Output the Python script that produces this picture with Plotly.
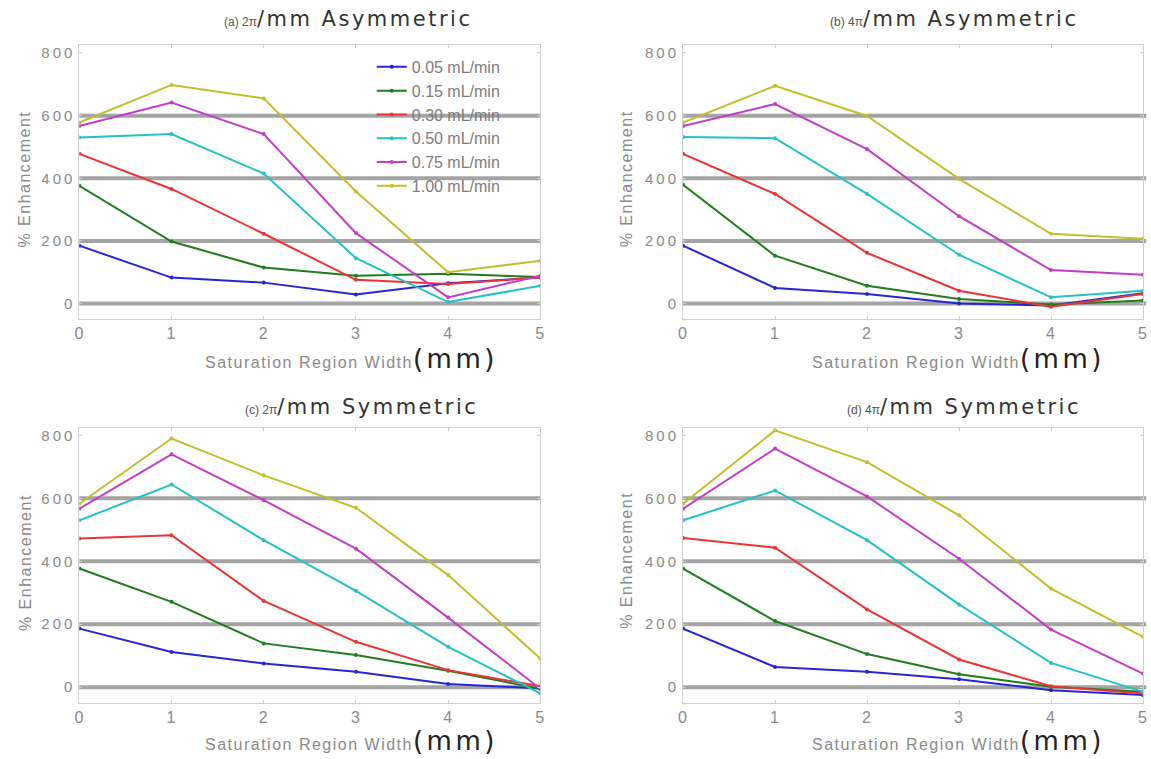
import plotly.graph_objects as go

# ---------------- data ----------------
x_mm = [0, 1, 2, 3, 4, 5]
series_names = ["0.05 mL/min", "0.15 mL/min", "0.30 mL/min",
                "0.50 mL/min", "0.75 mL/min", "1.00 mL/min"]
colors = ["#2626d9", "#1e7d1e", "#ec3434", "#22c2c6", "#c23ec8", "#c2be2e"]

# (a) 2pi/mm Asymmetric
a_vals = [
    [185, 83, 67, 29, 65, 83],
    [376, 198, 115, 89, 95, 85],
    [478, 366, 223, 76, 63, 83],
    [530, 541, 415, 145, 5, 57],
    [567, 642, 541, 225, 20, 89],
    [578, 698, 655, 358, 100, 137],
]
# (b) 4pi/mm Asymmetric
b_vals = [
    [185, 50, 31, 0, -6, 33],
    [379, 153, 57, 15, -3, 10],
    [478, 350, 162, 41, -10, 31],
    [532, 528, 350, 156, 20, 41],
    [567, 637, 493, 279, 107, 92],
    [578, 695, 599, 398, 223, 207],
]
# (c) 2pi/mm Symmetric
c_vals = [
    [186, 112, 75, 49, 10, -4],
    [377, 271, 139, 102, 52, -5],
    [472, 483, 274, 144, 54, 3],
    [530, 644, 467, 306, 128, -20],
    [567, 740, 594, 440, 221, -5],
    [583, 790, 673, 570, 356, 91],
]
# (d) 4pi/mm Symmetric
d_vals = [
    [186, 64, 49, 25, -10, -25],
    [377, 210, 105, 41, 1, -15],
    [474, 443, 247, 88, 3, -20],
    [530, 625, 467, 263, 77, -15],
    [567, 758, 606, 408, 183, 43],
    [583, 816, 715, 546, 313, 160],
]

panel_small = ["(a) 2\u03c0", "(b) 4\u03c0", "(c) 2\u03c0", "(d) 4\u03c0"]
panel_big = ["/mm Asymmetric", "/mm Asymmetric", "/mm Symmetric", "/mm Symmetric"]
x_ticks = [0, 1, 2, 3, 4, 5]
y_ticks = [0, 200, 400, 600, 800]
ref_levels = [0, 200, 400, 600]

W, H = 1151, 759

def px(v):
    return v / W

def py(v):
    return 1 - v / H

def spaced(t, ls):
    return "<span style='letter-spacing:%spx'>%s</span>" % (ls, t)

panels = [
    dict(vals=a_vals, xd=[px(75), px(540)], yd=[py(318.7), py(44.2)],
         title_x=346, title_y=18, xt_x=350, xt_y=358, yt_x=20, yt_y=178, ext=1.0),
    dict(vals=b_vals, xd=[px(684), px(1148)], yd=[py(318.7), py(44.2)],
         title_x=957, title_y=18, xt_x=962, xt_y=358, yt_x=627, yt_y=178, ext=1.007),
    dict(vals=c_vals, xd=[px(75), px(540)], yd=[py(702.8), py(427.1)],
         title_x=360, title_y=407, xt_x=350, xt_y=741, yt_x=20, yt_y=562, ext=1.0),
    dict(vals=d_vals, xd=[px(684), px(1148)], yd=[py(702.8), py(427.1)],
         title_x=967, title_y=407, xt_x=962, xt_y=741, yt_x=627, yt_y=560, ext=1.007),
]

fig = go.Figure()
layout = dict(
    width=W, height=H,
    margin=dict(l=0, r=0, t=0, b=0),
    paper_bgcolor="white", plot_bgcolor="white",
    showlegend=True,
    font=dict(family="Liberation Sans, Arial, sans-serif", color="#7a7a7a", size=13),
    legend=dict(x=px(370), y=py(49), xanchor="left", yanchor="top",
                bgcolor="rgba(0,0,0,0)", borderwidth=0,
                font=dict(size=16, color="#7c7c7c", family="Liberation Sans, Arial, sans-serif"),
                itemwidth=30, tracegroupgap=0),
)
shapes = []
annotations = []

for i, p in enumerate(panels):
    n = "" if i == 0 else str(i + 1)
    xa = "x" + n
    ya = "y" + n
    layout["xaxis" + n] = dict(
        domain=p["xd"], anchor=ya, range=[0, 5], tickvals=x_ticks,
        ticktext=[spaced(str(v), 1) for v in x_ticks],
        showgrid=False, zeroline=False, showline=True, linecolor="#cfcfcf",
        linewidth=1, mirror="ticks", ticks="inside", ticklen=3, tickcolor="#cfcfcf",
        tickfont=dict(size=16, color="#8a8a8a"), fixedrange=True,
    )
    layout["yaxis" + n] = dict(
        domain=p["yd"], anchor=xa, range=[-50, 825], tickvals=y_ticks,
        ticktext=[spaced(str(v), 3) for v in y_ticks],
        showgrid=False, zeroline=False, showline=True, linecolor="#cfcfcf",
        linewidth=1, mirror="ticks", ticks="inside", ticklen=3, tickcolor="#cfcfcf",
        tickfont=dict(size=15, color="#8a8a8a"), fixedrange=True,
    )
    for lv in ref_levels:
        shapes.append(dict(type="line", xref=xa + " domain", yref=ya,
                           x0=0, x1=p["ext"], y0=lv, y1=lv,
                           line=dict(color="#a4a4a4", width=4), layer="below"))
    for k, name in enumerate(series_names):
        fig.add_trace(go.Scatter(
            x=x_mm, y=p["vals"][k], xaxis=xa, yaxis=ya, name=name,
            mode="lines+markers", showlegend=(i == 0),
            line=dict(color=colors[k], width=2),
            marker=dict(color=colors[k], size=4),
        ))
    # title
    annotations.append(dict(
        xref="paper", yref="paper", x=px(p["title_x"]), y=py(p["title_y"]),
        xanchor="center", yanchor="middle", showarrow=False,
        text=("<span style='font-size:12px;color:#555555'>" + panel_small[i] +
              "</span><span style='font-size:21px;color:#333333;letter-spacing:2.5px;"
              "font-family:DejaVu Sans'>" + panel_big[i] + "</span>"),
    ))
    # x-axis label
    annotations.append(dict(
        xref="paper", yref="paper", x=px(p["xt_x"]), y=py(p["xt_y"]),
        xanchor="center", yanchor="middle", showarrow=False,
        text=("<span style='font-size:16px;color:#8a8a8a;letter-spacing:1.5px'>"
              "Saturation Region Width</span>"
              "<span style='font-size:26px;color:#222222;letter-spacing:3.5px;"
              "font-family:DejaVu Sans'>(mm)</span>"),
    ))
    # y-axis label
    annotations.append(dict(
        xref="paper", yref="paper", x=px(p["yt_x"]), y=py(p["yt_y"]),
        xanchor="center", yanchor="middle", showarrow=False, textangle=-90,
        text=spaced("% Enhancement", 1.5), font=dict(size=16, color="#8a8a8a"),
    ))

layout["shapes"] = shapes
layout["annotations"] = annotations
fig.update_layout(**layout)
fig.write_html("out.html")
